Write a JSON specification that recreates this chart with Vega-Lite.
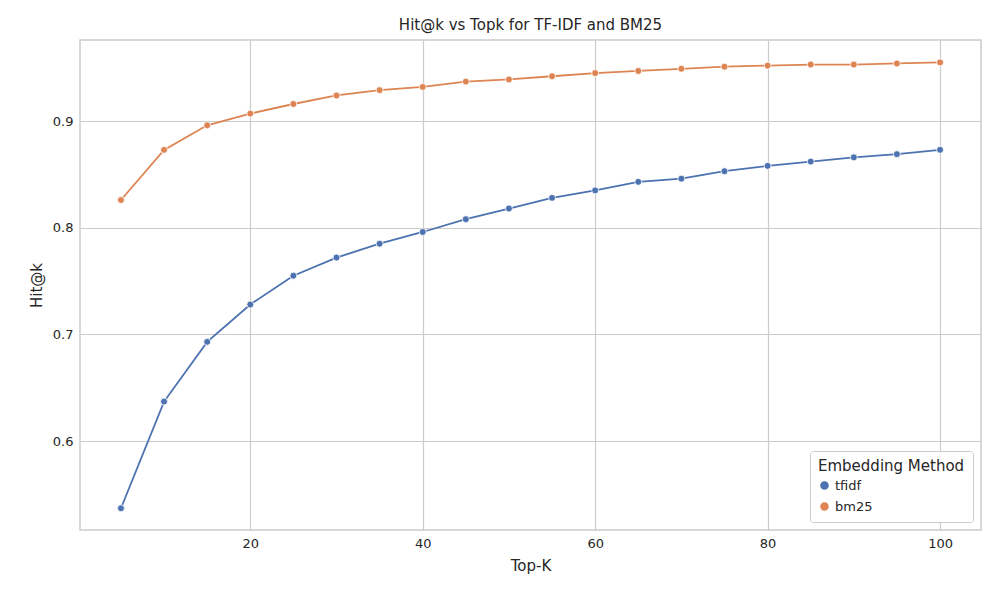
{
  "$schema": "https://vega.github.io/schema/vega-lite/v6.json",
  "autosize": "none",
  "width": 901,
  "height": 490,
  "padding": {"left": 80, "top": 40, "right": 19, "bottom": 70},
  "background": "white",
  "title": {"text": "Hit@k vs Topk for TF-IDF and BM25", "font": "DejaVu Sans", "fontSize": 15, "fontWeight": "normal", "color": "#262626", "offset": 7},
  "config": {
    "font": "DejaVu Sans",
    "view": {"stroke": "#cccccc", "strokeWidth": 1.5},
    "axis": {"grid": true, "gridColor": "#cccccc", "gridOpacity": 1, "gridWidth": 1.2, "domain": false, "ticks": false, "labelFontSize": 13, "labelColor": "#262626", "titleFontSize": 15, "titleFontWeight": "normal", "titleColor": "#262626", "labelPadding": 7, "titlePadding": 8}
  },
  "data": {"values": [
    {"k":5,"m":"tfidf","v":0.537},{"k":10,"m":"tfidf","v":0.637},{"k":15,"m":"tfidf","v":0.693},{"k":20,"m":"tfidf","v":0.728},
    {"k":25,"m":"tfidf","v":0.755},{"k":30,"m":"tfidf","v":0.772},{"k":35,"m":"tfidf","v":0.785},{"k":40,"m":"tfidf","v":0.796},
    {"k":45,"m":"tfidf","v":0.808},{"k":50,"m":"tfidf","v":0.818},{"k":55,"m":"tfidf","v":0.828},{"k":60,"m":"tfidf","v":0.835},
    {"k":65,"m":"tfidf","v":0.843},{"k":70,"m":"tfidf","v":0.846},{"k":75,"m":"tfidf","v":0.853},{"k":80,"m":"tfidf","v":0.858},
    {"k":85,"m":"tfidf","v":0.862},{"k":90,"m":"tfidf","v":0.866},{"k":95,"m":"tfidf","v":0.869},{"k":100,"m":"tfidf","v":0.873},
    {"k":5,"m":"bm25","v":0.826},{"k":10,"m":"bm25","v":0.873},{"k":15,"m":"bm25","v":0.896},{"k":20,"m":"bm25","v":0.907},
    {"k":25,"m":"bm25","v":0.916},{"k":30,"m":"bm25","v":0.924},{"k":35,"m":"bm25","v":0.929},{"k":40,"m":"bm25","v":0.932},
    {"k":45,"m":"bm25","v":0.937},{"k":50,"m":"bm25","v":0.939},{"k":55,"m":"bm25","v":0.942},{"k":60,"m":"bm25","v":0.945},
    {"k":65,"m":"bm25","v":0.947},{"k":70,"m":"bm25","v":0.949},{"k":75,"m":"bm25","v":0.951},{"k":80,"m":"bm25","v":0.952},
    {"k":85,"m":"bm25","v":0.953},{"k":90,"m":"bm25","v":0.953},{"k":95,"m":"bm25","v":0.954},{"k":100,"m":"bm25","v":0.955}
  ]},
  "mark": {"type": "line", "strokeWidth": 1.8, "point": {"filled": true, "size": 48, "stroke": "white", "strokeWidth": 0.8}},
  "encoding": {
    "x": {"field": "k", "type": "quantitative", "title": "Top-K", "scale": {"domain": [0.25, 104.75], "nice": false, "zero": false}, "axis": {"values": [20, 40, 60, 80, 100]}},
    "y": {"field": "v", "type": "quantitative", "title": "Hit@k", "scale": {"domain": [0.5166, 0.976], "nice": false, "zero": false}, "axis": {"values": [0.6, 0.7, 0.8, 0.9], "format": ".1f"}},
    "color": {"field": "m", "type": "nominal", "sort": ["tfidf", "bm25"], "title": "Embedding Method",
      "scale": {"domain": ["tfidf", "bm25"], "range": ["#4c72b0", "#dd8452"]},
      "legend": {"orient": "bottom-right", "offset": 8, "fillColor": "white", "strokeColor": "#cccccc", "padding": 8, "cornerRadius": 3, "titleFontSize": 15, "titleFontWeight": "normal", "labelFontSize": 13, "titleColor": "#262626", "labelColor": "#262626", "symbolType": "circle", "symbolSize": 50, "rowPadding": 6}}
  }
}
